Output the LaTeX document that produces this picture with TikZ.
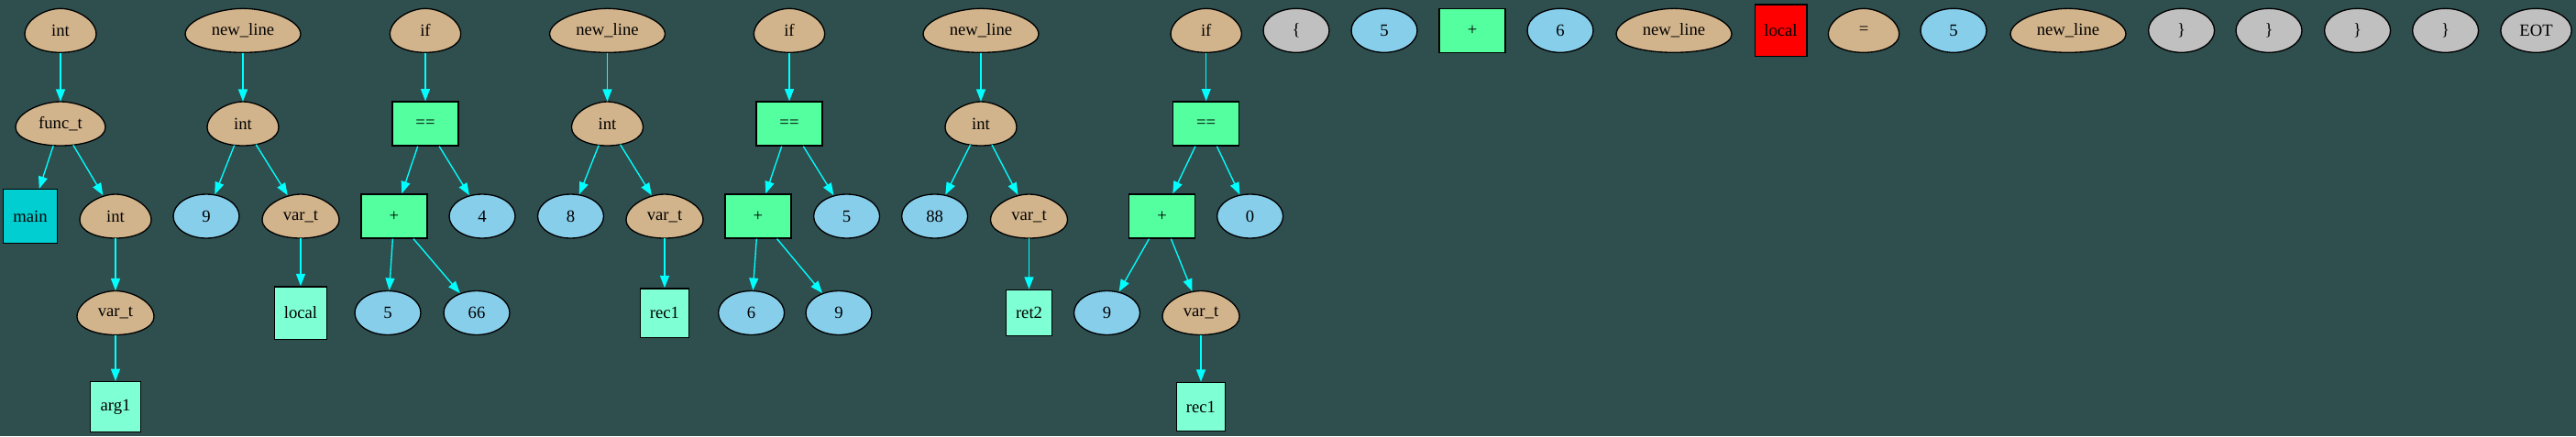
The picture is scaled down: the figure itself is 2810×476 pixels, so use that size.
\documentclass[tikz,border=0pt]{standalone}
\usepackage{fontspec}
\setmainfont{Liberation Serif}
\usetikzlibrary{arrows.meta,shapes.geometric}
\definecolor{bgc}{HTML}{2F4F4F}
\definecolor{tanc}{HTML}{D2B48C}
\definecolor{skyc}{HTML}{87CEEB}
\definecolor{grayc}{HTML}{C0C0C0}
\definecolor{greenc}{HTML}{54FF9F}
\definecolor{turqc}{HTML}{00CED1}
\definecolor{aquac}{HTML}{7FFFD4}
\definecolor{redc}{HTML}{FF0000}
\definecolor{cyanc}{HTML}{00FFFF}
\tikzset{
  every node/.style={font=\fontsize{14}{16}\selectfont, inner sep=0pt},
  eggshape/.style={ellipse, minimum height=36pt, minimum width=#1},
  eggfill/.style={fill=tanc, draw=black, line width=1pt},
  numnode/.style={ellipse, draw=black, fill=skyc, line width=1pt, minimum width=54pt, minimum height=36pt},
  tokennode/.style={ellipse, draw=black, fill=grayc, line width=1pt, minimum width=54pt, minimum height=36pt},
  opnode/.style={rectangle, draw=black, fill=greenc, line width=1pt, minimum width=54pt, minimum height=36pt},
  namenode/.style={rectangle, draw=black, fill=aquac, line width=1pt, minimum width=#1, minimum height=#1},
  funcnode/.style={rectangle, draw=black, fill=turqc, line width=1pt, minimum width=#1, minimum height=#1},
  rednode/.style={rectangle, draw=black, fill=redc, line width=1pt, minimum width=#1, minimum height=#1},
  conn/.style={draw=cyanc, line width=1pt, -{Triangle[length=10pt,width=7.5pt]}}
}
\newcommand{\eggnode}[5]{%
  \draw[eggfill, shift={(#2,#3)}] (-#4pt,-3.2pt) .. controls (-#4pt,9pt) and ({-0.42*#4pt},18pt) .. (0pt,18pt)
    .. controls ({0.42*#4pt},18pt) and (#4pt,9pt) .. (#4pt,-3.2pt)
    .. controls (#4pt,-12pt) and ({0.55*#4pt},-18pt) .. (0pt,-18pt)
    .. controls ({-0.55*#4pt},-18pt) and (-#4pt,-12pt) .. cycle;
  \node[eggshape={2*#4pt}] (#1) at (#2,#3) {#5};
}
\begin{document}
\begin{tikzpicture}[x=0.75pt,y=-0.75pt]
\fill[bgc] (0,0) rectangle (2810,476);
\useasboundingbox (0,0) rectangle (2810,476);

% tree 1
\eggnode{intA}{66}{33.3}{29.25}{int}
\eggnode{functA}{66}{135}{36.75}{func\_t}
\node[funcnode=44pt] (mainA) at (33,236) {main};
\eggnode{intB}{126}{236}{29.25}{int}
\eggnode{vartA}{126}{341.5}{31.5}{var\_t}
\node[namenode=41pt] (argA) at (126,444) {arg1};

% tree 2
\eggnode{nlA}{265}{33.3}{47.25}{new\_line}
\eggnode{intC}{265}{135}{29.25}{int}
\node[numnode] (nineA) at (225,236) {9};
\eggnode{vartB}{328}{236}{31.5}{var\_t}
\node[namenode=43pt] (localA) at (328,341.5) {local};

% tree 3
\eggnode{ifA}{464}{33.3}{29}{if}
\node[opnode] (eqA) at (464,135) {==};
\node[opnode] (plusA) at (430,236) {+};
\node[numnode] (fourA) at (526,236) {4};
\node[numnode] (fiveA) at (423,341.5) {5};
\node[numnode] (sixtysixA) at (520,341.5) {66};

% tree 4
\eggnode{nlB}{662.5}{33.3}{47.25}{new\_line}
\eggnode{intD}{662.5}{135}{29.25}{int}
\node[numnode] (eightA) at (622.5,236) {8};
\eggnode{vartC}{725}{236}{31.5}{var\_t}
\node[namenode=40pt] (recA) at (725,341.5) {rec1};

% tree 5
\eggnode{ifB}{861}{33.3}{29}{if}
\node[opnode] (eqB) at (861,135) {==};
\node[opnode] (plusB) at (827,236) {+};
\node[numnode] (fiveB) at (923.6,236) {5};
\node[numnode] (sixA) at (819.6,341.5) {6};
\node[numnode] (nineB) at (915,341.5) {9};

% tree 6
\eggnode{nlC}{1070}{33.3}{47.25}{new\_line}
\eggnode{intE}{1070}{135}{29.25}{int}
\node[numnode] (eightyeightA) at (1019.6,236) {88};
\eggnode{vartD}{1122.5}{236}{31.5}{var\_t}
\node[namenode=37.8pt] (retA) at (1122.5,341.5) {ret2};

% tree 7
\eggnode{ifC}{1315.7}{33.3}{29}{if}
\node[opnode] (eqC) at (1315.7,135) {==};
\node[opnode] (plusC) at (1267.5,236) {+};
\node[numnode] (zeroA) at (1363.6,236) {0};
\node[numnode] (nineC) at (1207.5,341.5) {9};
\eggnode{vartE}{1310}{341.5}{31.5}{var\_t}
\node[namenode=40pt] (recB) at (1310,444) {rec1};

% loose tokens
\node[tokennode] (lbrA) at (1414,33.3) {\{};
\node[numnode] (fiveC) at (1510,33.3) {5};
\node[opnode] (plusD) at (1606,33.3) {+};
\node[numnode] (sixB) at (1702,33.3) {6};
\eggnode{nlD}{1826}{33.3}{47.25}{new\_line}
\node[rednode=42.5pt] (localB) at (1942.5,33.3) {local};
\eggnode{assignA}{2033}{33.3}{29}{=}
\node[numnode] (fiveD) at (2131,33.3) {5};
\eggnode{nlE}{2256}{33.3}{47.25}{new\_line}
\node[tokennode] (rbrA) at (2379.6,33.3) {\}};
\node[tokennode] (rbrB) at (2475,33.3) {\}};
\node[tokennode] (rbrC) at (2571.6,33.3) {\}};
\node[tokennode] (rbrD) at (2667.6,33.3) {\}};
\node[tokennode, minimum width=58pt] (eotA) at (2766.5,33.3) {EOT};

% connectors
\draw[conn] (intA) -- (functA);
\draw[conn] (functA) -- (mainA);
\draw[conn] (functA) -- (intB);
\draw[conn] (intB) -- (vartA);
\draw[conn] (vartA) -- (argA);

\draw[conn] (nlA) -- (intC);
\draw[conn] (intC) -- (nineA);
\draw[conn] (intC) -- (vartB);
\draw[conn] (vartB) -- (localA);

\draw[conn] (ifA) -- (eqA);
\draw[conn] (eqA) -- (plusA);
\draw[conn] (eqA) -- (fourA);
\draw[conn] (plusA) -- (fiveA);
\draw[conn] (plusA) -- (sixtysixA);

\draw[conn] (nlB) -- (intD);
\draw[conn] (intD) -- (eightA);
\draw[conn] (intD) -- (vartC);
\draw[conn] (vartC) -- (recA);

\draw[conn] (ifB) -- (eqB);
\draw[conn] (eqB) -- (plusB);
\draw[conn] (eqB) -- (fiveB);
\draw[conn] (plusB) -- (sixA);
\draw[conn] (plusB) -- (nineB);

\draw[conn] (nlC) -- (intE);
\draw[conn] (intE) -- (eightyeightA);
\draw[conn] (intE) -- (vartD);
\draw[conn] (vartD) -- (retA);

\draw[conn] (ifC) -- (eqC);
\draw[conn] (eqC) -- (plusC);
\draw[conn] (eqC) -- (zeroA);
\draw[conn] (plusC) -- (nineC);
\draw[conn] (plusC) -- (vartE);
\draw[conn] (vartE) -- (recB);
\end{tikzpicture}
\end{document}
